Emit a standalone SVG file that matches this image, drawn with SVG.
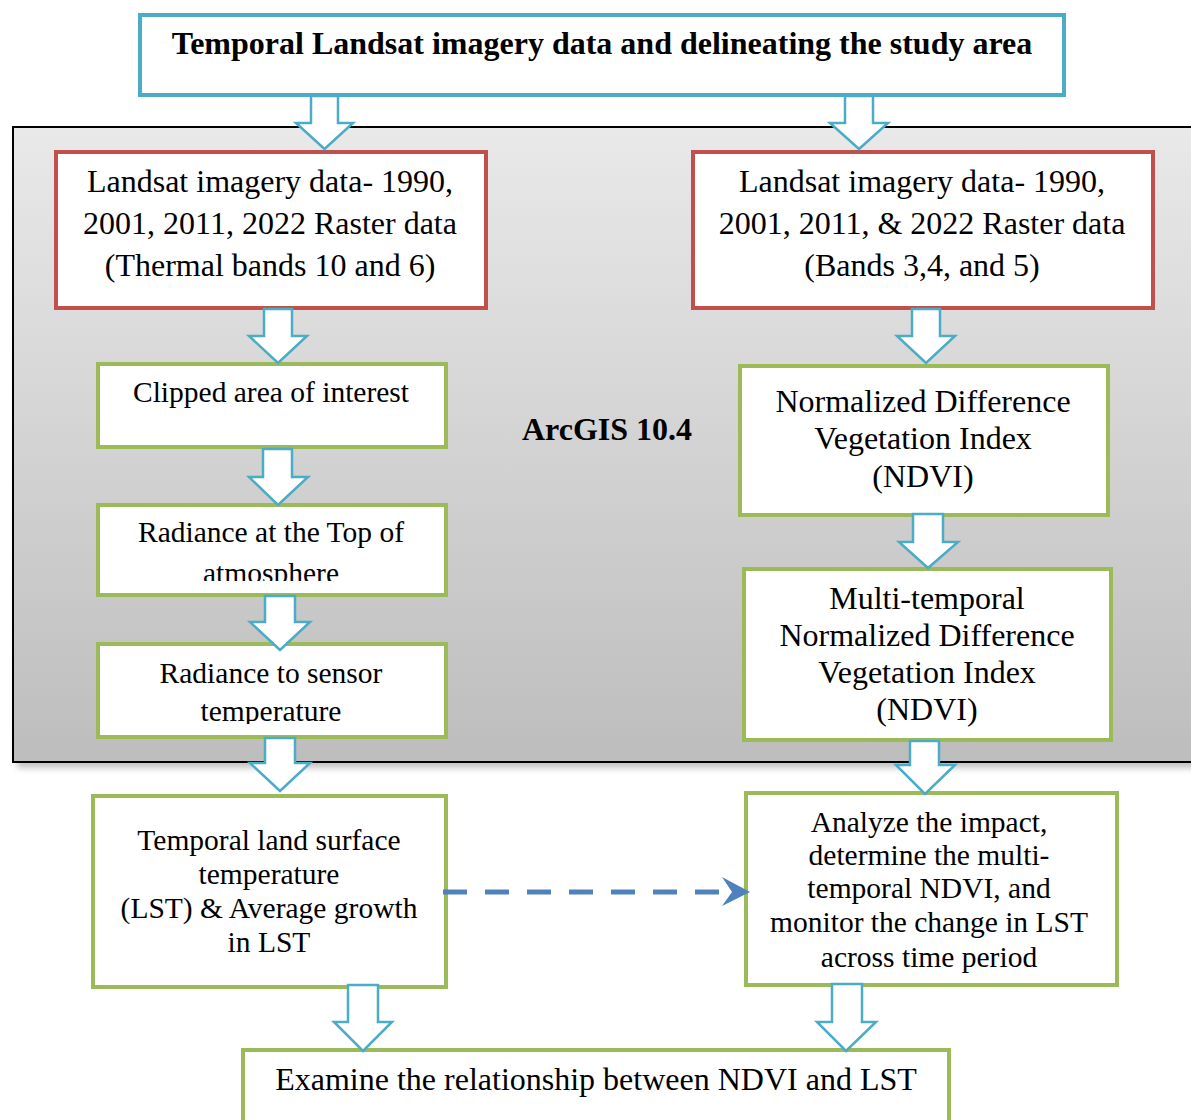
<svg xmlns="http://www.w3.org/2000/svg" width="1191" height="1120" viewBox="0 0 1191 1120">
<style>
  text { font-family: "Liberation Serif", "Times New Roman", serif; fill: #000; text-anchor: middle; }
  .b { font-weight: bold; }
  .box { fill: #fff; stroke-width: 4; }
  .blue { stroke: #4bacc6; }
  .red { stroke: #c0504d; }
  .green { stroke: #9bbb59; }
  .arr { fill: #fff; stroke: #4bacc6; stroke-width: 2.5; stroke-linejoin: miter; }
  .f32 { font-size: 32px; }
  .f29 { font-size: 29.5px; }
</style>
<defs>
  <linearGradient id="panelGrad" x1="0" y1="0" x2="0" y2="1">
    <stop offset="0" stop-color="#e9e9e9"/>
    <stop offset="1" stop-color="#bdbdbd"/>
  </linearGradient>
  <filter id="shadow" x="-5%" y="-5%" width="110%" height="115%">
    <feGaussianBlur stdDeviation="3"/>
  </filter>
  <clipPath id="clipAtm"><rect x="97" y="500" width="350" height="81"/></clipPath>
  <clipPath id="clipTemp"><rect x="97" y="640" width="350" height="84"/></clipPath>
</defs>
<rect width="1191" height="1120" fill="#fff"/>

<g id="panel">
  <rect x="17" y="133" width="1190" height="635" fill="#9a9a9a" opacity="0.6" filter="url(#shadow)"/>
  <rect x="13" y="127" width="1190" height="635" fill="url(#panelGrad)" stroke="#000" stroke-width="2"/>
  <text class="b" x="607" y="440" style="font-size:32px">ArcGIS 10.4</text>
</g>

<g id="n-top">
  <rect class="box blue" x="140" y="15" width="924" height="80"/>
  <text class="b" x="602" y="54" style="font-size:32px">Temporal Landsat imagery data and delineating the study area</text>
</g>

<g id="n-thermal">
  <rect class="box red" x="56" y="152" width="430" height="156"/>
  <text class="f32" x="270" y="192">Landsat imagery data- 1990,</text>
  <text class="f32" x="270" y="234">2001, 2011, 2022 Raster data</text>
  <text class="f32" x="270" y="276">(Thermal bands 10 and 6)</text>
</g>

<g id="n-bands">
  <rect class="box red" x="693" y="152" width="460" height="156"/>
  <text class="f32" x="922" y="192">Landsat imagery data- 1990,</text>
  <text class="f32" x="922" y="234">2001, 2011, &amp; 2022 Raster data</text>
  <text class="f32" x="922" y="276">(Bands 3,4, and 5)</text>
</g>

<g id="n-clipped">
  <rect class="box green" x="98" y="364" width="348" height="83"/>
  <text class="f29" x="271" y="402">Clipped area of interest</text>
</g>

<g id="n-radiance-top">
  <rect class="box green" x="98" y="505" width="348" height="90"/>
  <g clip-path="url(#clipAtm)">
    <text class="f29" x="271" y="542">Radiance at the Top of</text>
    <text class="f29" x="271" y="583">atmosphere</text>
  </g>
</g>

<g id="n-radiance-sensor">
  <rect class="box green" x="98" y="644" width="348" height="93"/>
  <g clip-path="url(#clipTemp)">
    <text class="f29" x="271" y="683">Radiance to sensor</text>
    <text class="f29" x="271" y="721">temperature</text>
  </g>
</g>

<g id="n-ndvi">
  <rect class="box green" x="740" y="366" width="368" height="149"/>
  <text class="f32" x="923" y="412">Normalized Difference</text>
  <text class="f32" x="923" y="449">Vegetation Index</text>
  <text class="f32" x="923" y="487">(NDVI)</text>
</g>

<g id="n-multi">
  <rect class="box green" x="744" y="569" width="367" height="171"/>
  <text class="f32" x="927" y="609">Multi-temporal</text>
  <text class="f32" x="927" y="646">Normalized Difference</text>
  <text class="f32" x="927" y="683">Vegetation Index</text>
  <text class="f32" x="927" y="720">(NDVI)</text>
</g>

<g id="n-lst">
  <rect class="box green" x="93" y="796" width="353" height="191"/>
  <text class="f29" x="269" y="850">Temporal land surface</text>
  <text class="f29" x="269" y="884">temperature</text>
  <text class="f29" x="269" y="918">(LST) &amp; Average growth</text>
  <text class="f29" x="269" y="952">in LST</text>
</g>

<g id="n-analyze">
  <rect class="box green" x="746" y="793" width="371" height="192"/>
  <text class="f29" x="929" y="832">Analyze the impact,</text>
  <text class="f29" x="929" y="865">determine the multi-</text>
  <text class="f29" x="929" y="898">temporal NDVI, and</text>
  <text class="f29" x="929" y="932">monitor the change in LST</text>
  <text class="f29" x="929" y="967">across time period</text>
</g>

<g id="n-examine">
  <rect class="box green" x="243" y="1050" width="706" height="90"/>
  <text class="f32" x="596" y="1090">Examine the relationship between NDVI and LST</text>
</g>

<g id="connectors">
  <path class="arr" d="M311,96 H338 V123 H353 L324.5,149 L296,123 H311 Z"/>
  <path class="arr" d="M845,96 H873 V123 H888 L859,149 L830,123 H845 Z"/>
  <path class="arr" d="M264,309 H292 V336 H307 L278,363 L249,336 H264 Z"/>
  <path class="arr" d="M263,449 H292 V477 H308 L278,505 L249,477 H263 Z"/>
  <path class="arr" d="M265,596 H295 V622 H310 L280,650 L250,622 H265 Z"/>
  <path class="arr" d="M265,738 H295 V763 H310 L280,791 L250,763 H265 Z"/>
  <path class="arr" d="M912,309 H940 V336 H955 L926,363 L897,336 H912 Z"/>
  <path class="arr" d="M913,514 H943 V542 H958 L928,568 L899,542 H913 Z"/>
  <path class="arr" d="M910,741 H939 V765 H955 L925,794 L896,765 H910 Z"/>
  <path class="arr" d="M348,985 H378 V1022 H392 L363,1051 L334,1022 H348 Z"/>
  <path class="arr" d="M832,984 H862 V1022 H876 L846,1051 L817,1022 H832 Z"/>
  <line x1="443" y1="892" x2="724" y2="892" stroke="#4f81bd" stroke-width="5" stroke-dasharray="24 18"/>
  <path d="M722,877 L750,892 L722,906 L732,892 Z" fill="#4f81bd"/>
</g>
</svg>
